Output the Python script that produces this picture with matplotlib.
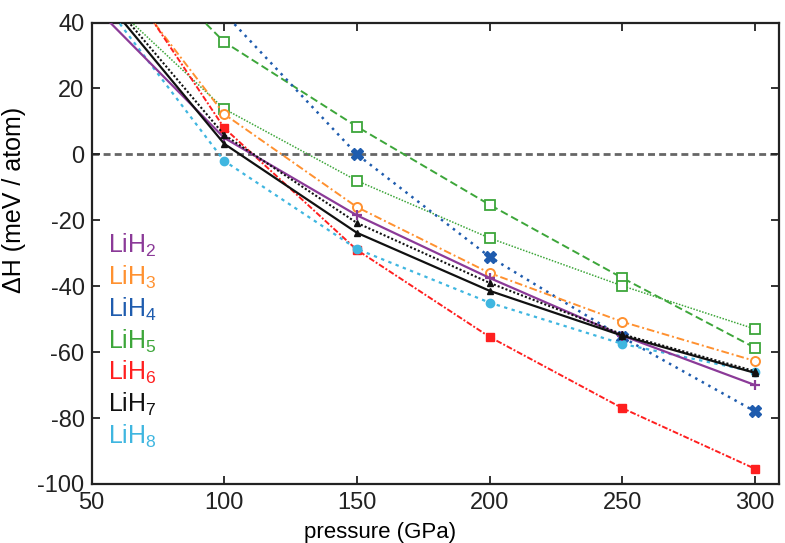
import matplotlib
matplotlib.use("Agg")
import matplotlib.pyplot as plt

plt.rcParams['font.family'] = ['Liberation Sans', 'DejaVu Sans']
plt.rcParams['mathtext.fontset'] = 'custom'
plt.rcParams['mathtext.rm'] = 'Liberation Sans'
plt.rcParams['mathtext.it'] = 'Liberation Sans:italic'
plt.rcParams['axes.unicode_minus'] = False

pressure = [50, 100, 150, 200, 250, 300]
pressure_lih4 = [100, 150, 200, 250, 300]

lih2 = [45.7, 5.0, -18.5, -37.5, -55.0, -70.0]
lih3 = [64.7, 12.2, -16.0, -36.0, -50.8, -62.7]
lih4 = [42.8, 0.0, -31.1, -55.5, -78.0]
lih5_a = [74.4, 34.1, 8.4, -15.3, -37.5, -58.7]
lih5_b = [51.4, 13.8, -8.0, -25.4, -39.9, -53.0]
lih6 = [68.4, 8.0, -29.0, -55.4, -77.0, -95.4]
lih7_a = [51.9, 3.2, -23.8, -41.4, -55.0, -66.3]
lih7_b = [53.4, 5.9, -20.8, -39.0, -54.6, -65.8]
lih8 = [50.9, -2.0, -28.7, -45.0, -57.5, -66.0]

labels = ['LiH$_2$', 'LiH$_3$', 'LiH$_4$', 'LiH$_5$', 'LiH$_6$', 'LiH$_7$', 'LiH$_8$']
colors = ['#8B3A98', '#FF9130', '#1F5CAE', '#3DA63A', '#FF1F1F', '#111111', '#3FB6E0']

fig = plt.figure(figsize=(7.85, 5.43), dpi=100)
ax = fig.add_axes([91.5/785, 1-484/543, (779-91.5)/785, (484-22.5)/543])

ax.axhline(0, color='#666666', lw=2.0, ls=(0, (2.5, 1.5)), zorder=1)

ax.plot(pressure, lih5_a, color=colors[3], ls=(0, (4, 2)), lw=1.4, marker='s', ms=6.5,
        mfc='white', mec=colors[3], mew=1.3, zorder=3)
ax.plot(pressure, lih5_b, color=colors[3], ls=(0, (1, 1)), lw=1.1, marker='s', ms=6.5,
        mfc='white', mec=colors[3], mew=1.3, zorder=3)
ax.plot(pressure_lih4, lih4, color=colors[2], ls=(0, (1, 2)), lw=1.8, marker='X', ms=8,
        mfc=colors[2], mec=colors[2], zorder=3)
ax.plot(pressure, lih3, color=colors[1], ls=(0, (4, 1.5, 1, 1.5)), lw=1.4, marker='o', ms=6.5,
        mfc='white', mec=colors[1], mew=1.4, zorder=3)
ax.plot(pressure, lih6, color=colors[4], ls=(0, (3, 1, 1, 1)), lw=1.4, marker='s', ms=6,
        mfc=colors[4], mec=colors[4], zorder=3)
ax.plot(pressure, lih8, color=colors[6], ls=(0, (1.5, 2)), lw=1.6, marker='o', ms=6,
        mfc=colors[6], mec=colors[6], zorder=3)
ax.plot(pressure, lih2, color=colors[0], ls='-', lw=1.6, marker='+', ms=7, mew=1.6, zorder=4)
ax.plot(pressure, lih7_b, color=colors[5], ls=(0, (1, 1)), lw=1.5, marker='^', ms=5,
        mfc=colors[5], mec=colors[5], zorder=4)
ax.plot(pressure, lih7_a, color=colors[5], ls='-', lw=1.6, marker='^', ms=5,
        mfc=colors[5], mec=colors[5], zorder=4)

for i, (lab, c) in enumerate(zip(labels, colors)):
    ax.text(56.2, -30.0 - 9.62 * i, lab, color=c, fontsize=18, ha='left', va='baseline')

ax.set_xlim(50, 309)
ax.set_ylim(-100, 40)
ax.set_xticks([50, 100, 150, 200, 250, 300])
ax.set_yticks([-100, -80, -60, -40, -20, 0, 20, 40])
ax.tick_params(direction='in', top=True, right=True, length=6, width=1.3,
               labelsize=17, pad=6, colors='#222222')
ax.tick_params(axis='y', pad=5)
for s in ax.spines.values():
    s.set_linewidth(1.6)
    s.set_color('#222222')

ax.set_xlabel('pressure (GPa)', fontsize=16)
ax.set_ylabel('ΔH (meV / atom)', fontsize=18)
ax.xaxis.set_label_coords(0.42, -0.083)
ax.yaxis.set_label_coords(-0.095, 0.615)

fig.savefig('out.png', dpi=100)
